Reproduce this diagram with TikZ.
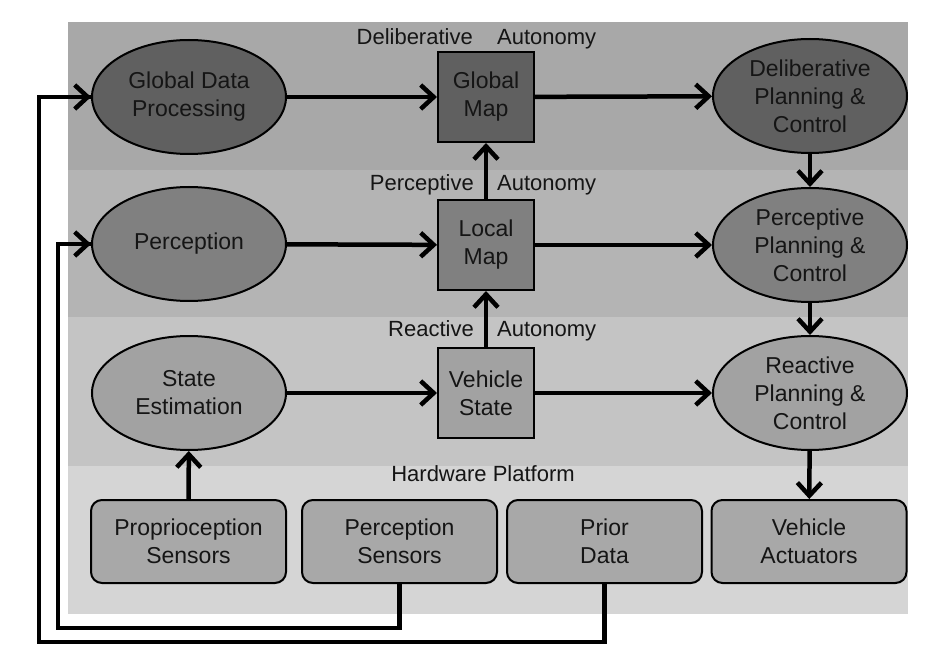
\documentclass[tikz,border=0pt]{standalone}
\usepackage{fontspec}
\setmainfont{Liberation Sans}
\usetikzlibrary{shapes.geometric,arrows.meta}
\definecolor{bandD}{HTML}{A8A8A8}
\definecolor{bandP}{HTML}{B4B4B4}
\definecolor{bandR}{HTML}{C4C4C4}
\definecolor{bandH}{HTML}{D5D5D5}
\definecolor{fillD}{HTML}{606060}
\definecolor{fillP}{HTML}{808080}
\definecolor{fillR}{HTML}{A2A2A2}
\definecolor{fillH}{HTML}{A8A8A8}
\definecolor{inkc}{HTML}{151515}
\tikzset{
  txt/.style={font=\fontsize{23}{28}\selectfont, text=inkc, align=center},
  oval/.style={txt, ellipse, draw=black, line width=2pt, inner sep=0pt, minimum width=194pt, minimum height=114pt},
  sqbox/.style={txt, rectangle, draw=black, line width=2pt, inner sep=0pt, minimum width=96pt, minimum height=90pt},
  hwbox/.style={txt, rectangle, rounded corners=11pt, draw=black, line width=2pt, inner sep=0pt, minimum width=195pt, minimum height=83pt, fill=fillH},
  bandlabel/.style={font=\fontsize{22}{26}\selectfont, text=inkc, inner sep=0pt},
  arr/.style={line width=4.5pt, -{Straight Barb[length=13pt, width=24pt, line width=4.5pt]}},
  fb/.style={line width=4.5pt}
}
\begin{document}
\begin{tikzpicture}[x=1pt, y=-1pt]
\useasboundingbox (0,0) rectangle (927,655);
\fill[white] (0,0) rectangle (927,655);
% bands
\fill[bandD] (68,22) rectangle (908,170);
\fill[bandP] (68,170) rectangle (908,317);
\fill[bandR] (68,317) rectangle (908,466);
\fill[bandH] (68,466) rectangle (908,614);
% band labels
\node[bandlabel, anchor=base east] (ldD) at (473,45) {Deliberative};
\node[bandlabel, anchor=base west] (ldA) at (497,45) {Autonomy};
\node[bandlabel, anchor=base east] (lpP) at (474,191) {Perceptive};
\node[bandlabel, anchor=base west] (lpA) at (497,191) {Autonomy};
\node[bandlabel, anchor=base east] (lrR) at (474,336) {Reactive};
\node[bandlabel, anchor=base west] (lrA) at (497,336) {Autonomy};
\node[bandlabel, anchor=base] (lh) at (483,481) {Hardware Platform};
% nodes
\node[oval, fill=fillD] (gdp) at (189,97) {Global Data\\Processing};
\node[sqbox, fill=fillD] (gmap) at (486,97) {Global\\Map};
\node[oval, fill=fillD] (dpc) at (810,96) {Deliberative\\Planning \&\\Control};
\node[oval, fill=fillP] (perc) at (189,244) {Perception};
\node[sqbox, fill=fillP] (lmap) at (486,245) {Local\\Map};
\node[oval, fill=fillP] (ppc) at (810,245) {Perceptive\\Planning \&\\Control};
\node[oval, fill=fillR] (se) at (189,393) {State\\Estimation};
\node[sqbox, fill=fillR] (vs) at (486,393) {Vehicle\\State};
\node[oval, fill=fillR] (rpc) at (810,393) {Reactive\\Planning \&\\Control};
\node[hwbox] (ps) at (188.5,541.5) {Proprioception\\Sensors};
\node[hwbox] (pss) at (399.5,541.5) {Perception\\Sensors};
\node[hwbox] (pd) at (604.5,541.5) {Prior\\Data};
\node[hwbox] (va) at (809,541.5) {Vehicle\\Actuators};
% connectors
\draw[arr] (gdp) -- (gmap);
\draw[arr] (gmap) -- (dpc);
\draw[arr] (perc) -- (lmap);
\draw[arr] (lmap) -- (ppc);
\draw[arr] (se) -- (vs);
\draw[arr] (vs) -- (rpc);
\draw[arr] (lmap) -- (gmap);
\draw[arr] (vs) -- (lmap);
\draw[arr] (dpc) -- (ppc);
\draw[arr] (ppc) -- (rpc);
\draw[arr] (rpc) -- (va);
\draw[arr] (ps) -- (se);
% feedback lines
\coordinate (o1) at (604.5,642);
\coordinate (o2) at (39,642);
\coordinate (o3) at (39,97);
\coordinate (i1) at (399.5,628);
\coordinate (i2) at (58,628);
\coordinate (i3) at (58,244);
\draw[fb] (pd.south) -- (o1) -- (o2) -- (o3) -- (gdp.west);
\draw[arr] (o3) -- (gdp.west);
\draw[fb] (pss.south) -- (i1) -- (i2) -- (i3) -- (perc.west);
\draw[arr] (i3) -- (perc.west);
\end{tikzpicture}
\end{document}
